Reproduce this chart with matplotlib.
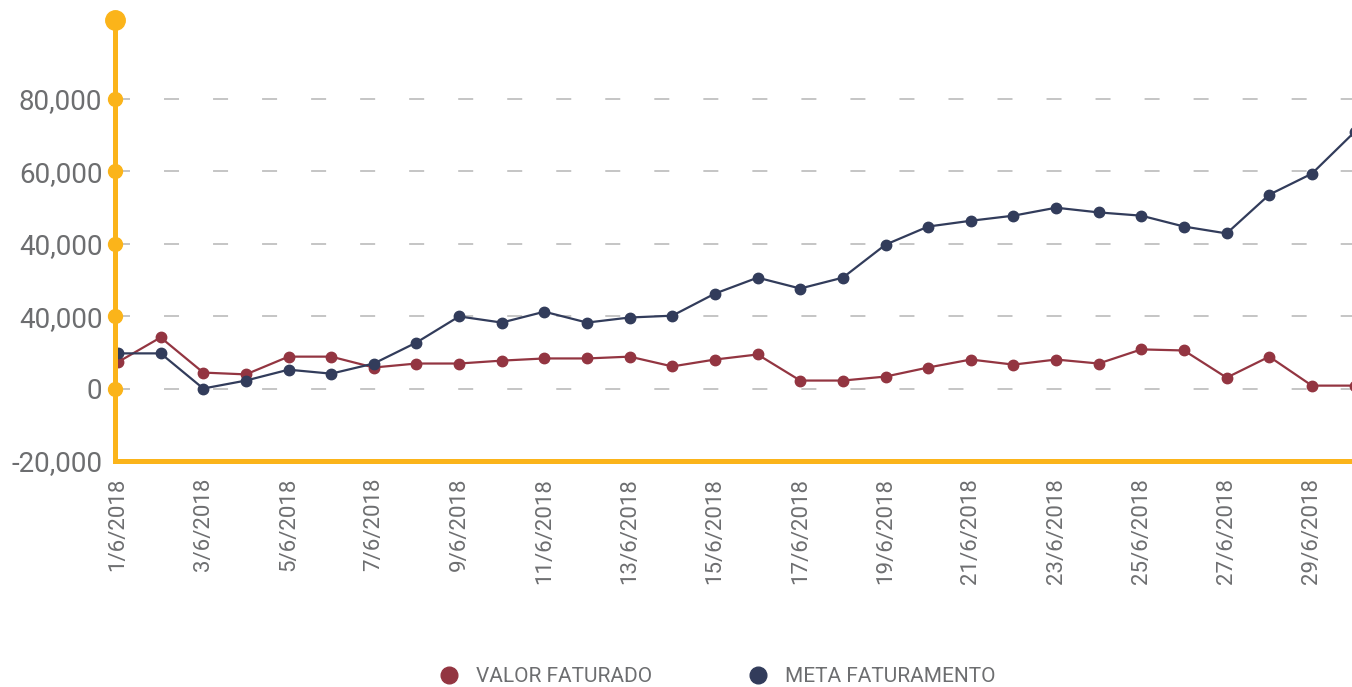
import matplotlib
matplotlib.use("Agg")
import matplotlib.pyplot as plt
from matplotlib.lines import Line2D

plt.rcParams['font.family'] = ['Roboto', 'DejaVu Sans']
plt.rcParams['lines.scale_dashes'] = False

dates = [f"{d}/6/2018" for d in range(1, 31)]
valor_faturado = [7300, 14100, 4400, 3900, 8800, 8800, 5800, 6900, 6900, 7700,
                  8300, 8300, 8800, 6100, 8000, 9400, 2200, 2200, 3300, 5800,
                  8000, 6600, 8000, 6900, 10800, 10500, 3000, 8800, 800, 800]
meta_faturamento = [9700, 9700, 0, 2200, 5200, 4100, 6900, 12700, 19900, 18200,
                    21200, 18200, 19600, 20100, 26200, 30600, 27600, 30600, 39700, 44700,
                    46300, 47700, 49900, 48600, 47700, 44700, 42800, 53500, 59300, 70800]
y_ticks = [-20000, 0, 20000, 40000, 60000, 80000]
y_tick_labels = ['-20,000', '0', '40,000', '40,000', '60,000', '80,000']

YELLOW = '#FBB41A'
RED = '#933541'
NAVY = '#323C5B'
TEXT = '#6d6e70'
GRID = '#b5b5b5'

W, H = 1352, 687
fig = plt.figure(figsize=(W / 100, H / 100), dpi=100)
ax = fig.add_axes([115 / W, 1 - 461 / H, (1352 - 115) / W, 441 / H])

x = list(range(len(dates)))
ax.plot(x, valor_faturado, color=RED, lw=1.6, marker='o', ms=7.5, zorder=3)
ax.plot(x, meta_faturamento, color=NAVY, lw=1.6, marker='o', ms=7.5, zorder=4)

ax.set_xlim(-0.07, 28.94)
ax.set_ylim(-20000, 101700)

ax.set_yticks(y_ticks)
ax.set_yticklabels(y_tick_labels)
ax.set_xticks(x[::2])
ax.set_xticklabels(dates[::2], rotation=90, va='top', ha='center')

ax.tick_params(axis='y', length=0, pad=9, labelsize=20, labelcolor=TEXT)
ax.tick_params(axis='x', length=0, pad=12, labelsize=16, labelcolor=TEXT)

ax.grid(axis='y', color=GRID, lw=1.1, linestyle=(0, (10.8, 24.5)))
ax.grid(axis='x', visible=False)
ax.set_axisbelow(True)

for s in ['top', 'right']:
    ax.spines[s].set_visible(False)
for s in ['left', 'bottom']:
    ax.spines[s].set_color(YELLOW)
    ax.spines[s].set_linewidth(3.6)
    ax.spines[s].set_zorder(5)
ax.spines['bottom'].set_capstyle('projecting')

# axis decorations: dots at tick positions and at the top of the y axis
x0 = ax.get_xlim()[0]
ytop = ax.get_ylim()[1]
ax.plot([x0] * (len(y_ticks) - 1), y_ticks[1:], 'o', color=YELLOW, ms=10,
        clip_on=False, zorder=6)
ax.plot([x0], [ytop], 'o', color=YELLOW, ms=14, clip_on=False, zorder=6)

handles = [Line2D([], [], color=RED, marker='o', ls='none', ms=12),
           Line2D([], [], color=NAVY, marker='o', ls='none', ms=12)]
fig.legend(handles, ['VALOR FATURADO', 'META FATURAMENTO'], loc='center',
           bbox_to_anchor=(717 / W, 1 - 677 / H), ncol=2, frameon=False,
           fontsize=15, labelcolor=TEXT, handletextpad=0.8, columnspacing=4.6,
           handlelength=1.0)

fig.savefig('out.png', dpi=100)
